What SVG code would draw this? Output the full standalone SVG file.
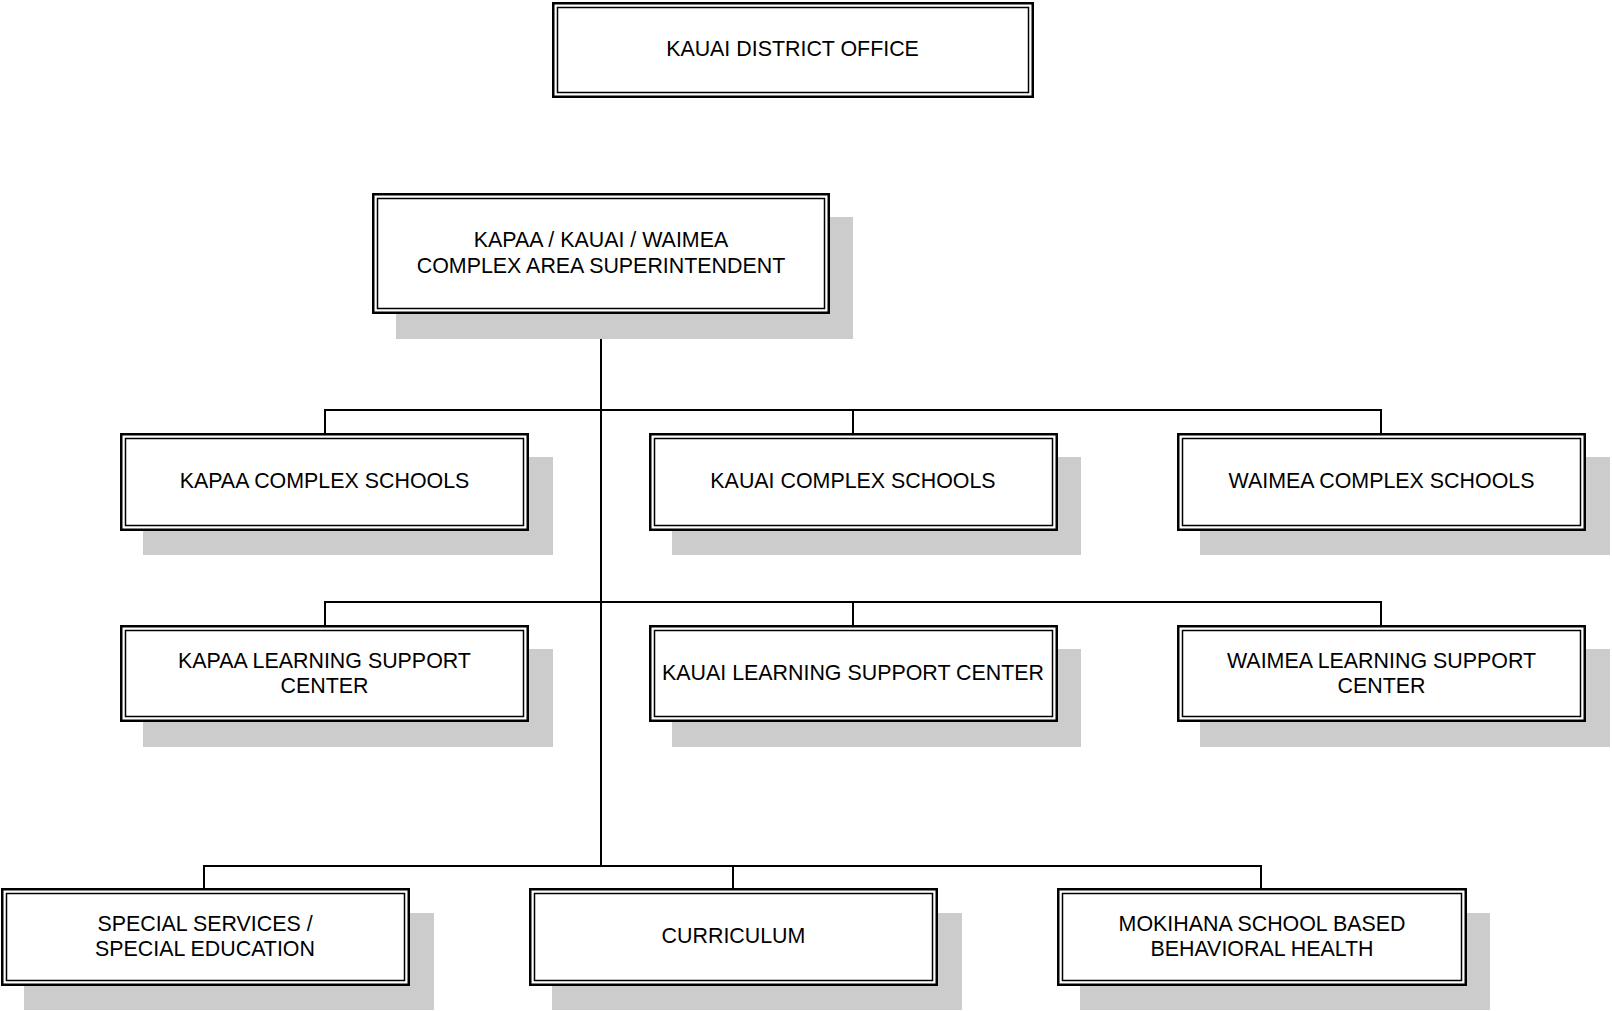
<svg xmlns="http://www.w3.org/2000/svg" width="1612" height="1011" viewBox="0 0 1612 1011">
<style>
.bg{fill:#ffffff}
.sh{fill:#cccccc;stroke:none}
.o{fill:#ffffff;stroke:#000000;stroke-width:2.5}
.i{fill:none;stroke:#000000;stroke-width:1.5}
.t{font-family:"Liberation Sans",Arial,sans-serif;font-size:21.4px;fill:#000000;text-anchor:middle}
.c{fill:none;stroke:#000000;stroke-width:2}
</style>
<rect class="bg" x="0" y="0" width="1612" height="1011"/>
<g id="connectors">
<line class="c" x1="601" y1="314" x2="601" y2="867"/>
<polyline class="c" points="325,433 325,410 1381,410 1381,433"/>
<line class="c" x1="853" y1="410" x2="853" y2="433"/>
<polyline class="c" points="325,625 325,602 1381,602 1381,625"/>
<line class="c" x1="853" y1="602" x2="853" y2="625"/>
<polyline class="c" points="204,888 204,866 1261,866 1261,888"/>
<line class="c" x1="733" y1="866" x2="733" y2="888"/>
</g>
<g id="kauai-district-office">
<rect class="o" x="553.25" y="3.25" width="479.5" height="93.5"/>
<rect class="i" x="557.5" y="7.5" width="471" height="85"/>
<text class="t" x="792.5" y="56">KAUAI DISTRICT OFFICE</text>
</g>
<g id="complex-area-superintendent">
<rect class="sh" x="396" y="217" width="457" height="122"/>
<rect class="o" x="373.25" y="194.25" width="455.5" height="118.5"/>
<rect class="i" x="377.5" y="198.5" width="447" height="110"/>
<text class="t" x="601" y="247">KAPAA / KAUAI / WAIMEA</text>
<text class="t" x="601" y="273">COMPLEX AREA SUPERINTENDENT</text>
</g>
<g id="kapaa-complex-schools">
<rect class="sh" x="143" y="457" width="410" height="98"/>
<rect class="o" x="121.25" y="434.25" width="406.5" height="95.5"/>
<rect class="i" x="125.5" y="438.5" width="398" height="87"/>
<text class="t" x="324.5" y="488">KAPAA COMPLEX SCHOOLS</text>
</g>
<g id="kauai-complex-schools">
<rect class="sh" x="672" y="457" width="409" height="98"/>
<rect class="o" x="650.25" y="434.25" width="406.5" height="95.5"/>
<rect class="i" x="654.5" y="438.5" width="398" height="87"/>
<text class="t" x="853" y="488">KAUAI COMPLEX SCHOOLS</text>
</g>
<g id="waimea-complex-schools">
<rect class="sh" x="1200" y="457" width="410" height="98"/>
<rect class="o" x="1178.25" y="434.25" width="406.5" height="95.5"/>
<rect class="i" x="1182.5" y="438.5" width="398" height="87"/>
<text class="t" x="1381.5" y="488">WAIMEA COMPLEX SCHOOLS</text>
</g>
<g id="kapaa-learning-support-center">
<rect class="sh" x="143" y="649" width="410" height="98"/>
<rect class="o" x="121.25" y="626.25" width="406.5" height="94.5"/>
<rect class="i" x="125.5" y="630.5" width="398" height="86"/>
<text class="t" x="324.5" y="668">KAPAA LEARNING SUPPORT</text>
<text class="t" x="324.5" y="693">CENTER</text>
</g>
<g id="kauai-learning-support-center">
<rect class="sh" x="672" y="649" width="409" height="98"/>
<rect class="o" x="650.25" y="626.25" width="406.5" height="94.5"/>
<rect class="i" x="654.5" y="630.5" width="398" height="86"/>
<text class="t" x="853" y="680">KAUAI LEARNING SUPPORT CENTER</text>
</g>
<g id="waimea-learning-support-center">
<rect class="sh" x="1200" y="649" width="410" height="98"/>
<rect class="o" x="1178.25" y="626.25" width="406.5" height="94.5"/>
<rect class="i" x="1182.5" y="630.5" width="398" height="86"/>
<text class="t" x="1381.5" y="668">WAIMEA LEARNING SUPPORT</text>
<text class="t" x="1381.5" y="693">CENTER</text>
</g>
<g id="special-services">
<rect class="sh" x="24" y="913" width="410" height="97"/>
<rect class="o" x="2.25" y="889.25" width="406.5" height="95.5"/>
<rect class="i" x="6.5" y="893.5" width="398" height="87"/>
<text class="t" x="205" y="931">SPECIAL SERVICES /</text>
<text class="t" x="205" y="956">SPECIAL EDUCATION</text>
</g>
<g id="curriculum">
<rect class="sh" x="552" y="913" width="410" height="97"/>
<rect class="o" x="530.25" y="889.25" width="406.5" height="95.5"/>
<rect class="i" x="534.5" y="893.5" width="398" height="87"/>
<text class="t" x="733.5" y="943">CURRICULUM</text>
</g>
<g id="mokihana">
<rect class="sh" x="1080" y="913" width="410" height="97"/>
<rect class="o" x="1058.25" y="889.25" width="407.5" height="95.5"/>
<rect class="i" x="1062.5" y="893.5" width="399" height="87"/>
<text class="t" x="1262" y="931">MOKIHANA SCHOOL BASED</text>
<text class="t" x="1262" y="956">BEHAVIORAL HEALTH</text>
</g>
</svg>
